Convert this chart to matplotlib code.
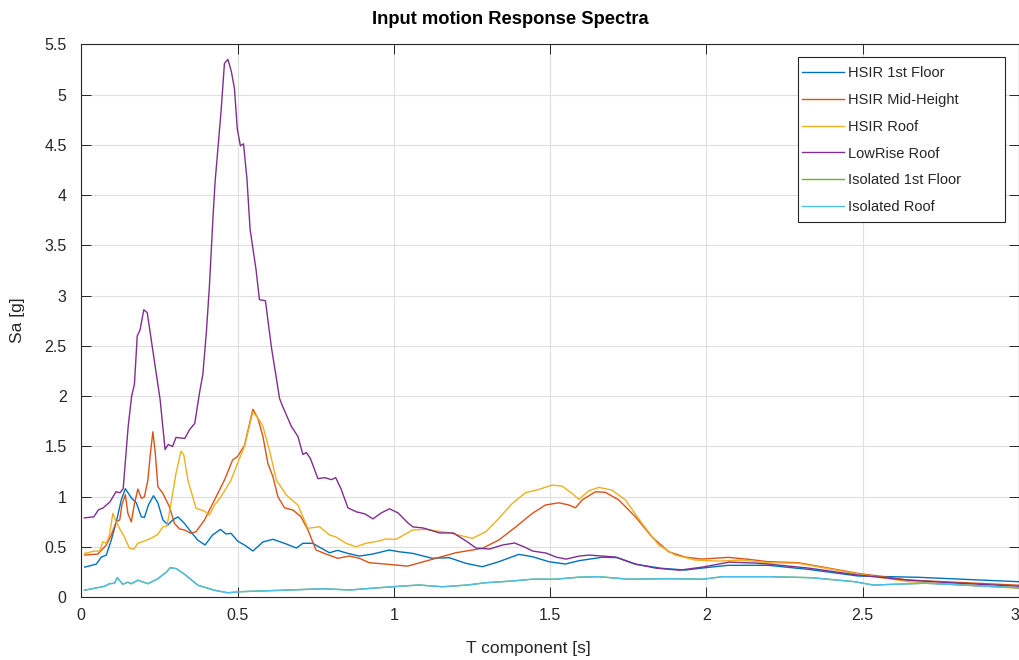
import matplotlib
matplotlib.use("Agg")
import matplotlib.pyplot as plt
from matplotlib.patches import Rectangle

plt.rcParams['font.family'] = ['Liberation Sans', 'DejaVu Sans']

# ---------------- data ----------------
t_blue = [0.011, 0.048, 0.064, 0.08, 0.096, 0.112, 0.128, 0.141, 0.16, 0.176, 0.192, 0.202, 0.215, 0.231,
          0.245, 0.261, 0.277, 0.293, 0.309, 0.33, 0.351, 0.372, 0.396, 0.42, 0.445, 0.463, 0.479, 0.50,
          0.527, 0.549, 0.581, 0.613, 0.656, 0.688, 0.709, 0.74, 0.767, 0.794, 0.82, 0.852, 0.89, 0.932,
          0.985, 1.017, 1.06, 1.123, 1.177, 1.23, 1.283, 1.336, 1.40, 1.443, 1.496, 1.549, 1.592, 1.666,
          1.714, 1.773, 1.858, 1.932, 2.007, 2.07, 2.198, 2.325, 2.485, 2.677, 3.0]
v_blue = [0.30, 0.33, 0.40, 0.42, 0.57, 0.75, 0.97, 1.08, 0.99, 0.94, 0.80, 0.795, 0.92, 1.01,
          0.94, 0.77, 0.72, 0.77, 0.80, 0.735, 0.65, 0.57, 0.52, 0.62, 0.675, 0.63, 0.636, 0.56,
          0.51, 0.46, 0.55, 0.577, 0.53, 0.49, 0.537, 0.537, 0.49, 0.443, 0.467, 0.437, 0.41, 0.43,
          0.47, 0.453, 0.437, 0.388, 0.394, 0.338, 0.304, 0.354, 0.427, 0.404, 0.354, 0.331, 0.364, 0.398,
          0.395, 0.328, 0.288, 0.271, 0.298, 0.318, 0.318, 0.278, 0.212, 0.199, 0.155]

t_red = [0.011, 0.053, 0.08, 0.096, 0.112, 0.123, 0.13, 0.141, 0.149, 0.16, 0.17, 0.181, 0.192, 0.202,
         0.213, 0.221, 0.229, 0.236, 0.245, 0.261, 0.282, 0.298, 0.314, 0.33, 0.351, 0.367, 0.394, 0.426,
         0.458, 0.484, 0.50, 0.522, 0.549, 0.565, 0.581, 0.597, 0.613, 0.629, 0.65, 0.677, 0.703, 0.725,
         0.751, 0.783, 0.82, 0.858, 0.89, 0.921, 0.975, 1.044, 1.123, 1.198, 1.283, 1.336, 1.39, 1.443,
         1.485, 1.528, 1.56, 1.581, 1.602, 1.645, 1.677, 1.72, 1.773, 1.826, 1.879, 1.932, 1.985, 2.07,
         2.134, 2.198, 2.294, 2.485, 2.645, 3.0]
v_red = [0.42, 0.43, 0.52, 0.62, 0.75, 0.77, 0.92, 1.02, 0.835, 0.75, 0.93, 1.077, 0.985, 1.00,
         1.166, 1.43, 1.646, 1.46, 1.10, 1.034, 0.90, 0.735, 0.68, 0.67, 0.636, 0.652, 0.768, 0.967,
         1.166, 1.365, 1.40, 1.51, 1.87, 1.78, 1.60, 1.33, 1.20, 1.00, 0.89, 0.868, 0.80, 0.67,
         0.47, 0.43, 0.388, 0.41, 0.388, 0.344, 0.33, 0.31, 0.378, 0.443, 0.487, 0.57, 0.70, 0.835,
         0.918, 0.94, 0.918, 0.89, 0.967, 1.05, 1.044, 0.967, 0.80, 0.60, 0.453, 0.40, 0.38, 0.397,
         0.378, 0.354, 0.344, 0.238, 0.172, 0.12]

t_yel = [0.011, 0.043, 0.059, 0.069, 0.08, 0.09, 0.101, 0.109, 0.122, 0.138, 0.154, 0.168, 0.181, 0.202,
         0.223, 0.245, 0.261, 0.274, 0.287, 0.303, 0.319, 0.328, 0.341, 0.367, 0.394, 0.41, 0.426, 0.447,
         0.479, 0.506, 0.522, 0.549, 0.57, 0.581, 0.602, 0.624, 0.656, 0.693, 0.709, 0.725, 0.762, 0.794,
         0.815, 0.847, 0.879, 0.911, 0.953, 0.975, 1.007, 1.06, 1.102, 1.177, 1.251, 1.294, 1.336, 1.379,
         1.421, 1.464, 1.506, 1.538, 1.57, 1.592, 1.624, 1.656, 1.698, 1.741, 1.794, 1.847, 1.90, 1.964,
         2.039, 2.113, 2.198, 2.294, 2.485, 2.645, 3.0]
v_yel = [0.437, 0.46, 0.46, 0.553, 0.537, 0.62, 0.835, 0.768, 0.686, 0.60, 0.487, 0.477, 0.537, 0.56,
         0.586, 0.626, 0.70, 0.709, 0.934, 1.233, 1.454, 1.415, 1.166, 0.885, 0.858, 0.818, 0.917, 1.00,
         1.166, 1.38, 1.50, 1.845, 1.76, 1.70, 1.464, 1.166, 1.017, 0.917, 0.80, 0.686, 0.702, 0.62,
         0.60, 0.537, 0.503, 0.537, 0.56, 0.58, 0.577, 0.669, 0.676, 0.642, 0.586, 0.652, 0.785, 0.934,
         1.04, 1.073, 1.116, 1.106, 1.034, 0.974, 1.06, 1.093, 1.066, 0.967, 0.735, 0.52, 0.42, 0.37,
         0.36, 0.37, 0.344, 0.338, 0.232, 0.155, 0.09]

t_pur = [0.01, 0.04, 0.055, 0.07, 0.092, 0.111, 0.124, 0.134, 0.15, 0.161, 0.17, 0.179, 0.188, 0.20,
         0.211, 0.23, 0.252, 0.268, 0.278, 0.292, 0.303, 0.331, 0.347, 0.363, 0.378, 0.389, 0.40, 0.41,
         0.421, 0.428, 0.437, 0.447, 0.458, 0.469, 0.48, 0.49, 0.499, 0.509, 0.519, 0.53, 0.54, 0.559,
         0.57, 0.589, 0.609, 0.623, 0.634, 0.644, 0.672, 0.693, 0.709, 0.72, 0.733, 0.757, 0.779, 0.80,
         0.814, 0.832, 0.853, 0.88, 0.907, 0.933, 0.96, 0.986, 1.013, 1.045, 1.061, 1.093, 1.146, 1.19,
         1.231, 1.263, 1.306, 1.348, 1.386, 1.418, 1.444, 1.487, 1.519, 1.551, 1.593, 1.625, 1.668, 1.71,
         1.774, 1.838, 1.913, 1.987, 2.073, 2.158, 2.20, 2.328, 2.488, 2.648, 2.808, 3.0]
v_pur = [0.79, 0.80, 0.87, 0.89, 0.95, 1.05, 1.04, 1.08, 1.70, 2.00, 2.12, 2.60, 2.66, 2.86,
         2.83, 2.43, 1.97, 1.47, 1.52, 1.50, 1.59, 1.58, 1.67, 1.73, 2.03, 2.22, 2.63, 3.10,
         3.76, 4.13, 4.46, 4.83, 5.31, 5.35, 5.23, 5.06, 4.66, 4.49, 4.51, 4.16, 3.66, 3.26,
         2.96, 2.95, 2.47, 2.20, 1.98, 1.90, 1.70, 1.60, 1.42, 1.44, 1.38, 1.18, 1.19, 1.17,
         1.19, 1.07, 0.89, 0.85, 0.83, 0.78, 0.84, 0.88, 0.84, 0.74, 0.70, 0.69, 0.64, 0.64,
         0.56, 0.49, 0.48, 0.52, 0.54, 0.50, 0.46, 0.44, 0.40, 0.38, 0.41, 0.42, 0.41, 0.40,
         0.33, 0.29, 0.27, 0.30, 0.35, 0.34, 0.33, 0.29, 0.22, 0.17, 0.14, 0.11]

t_iso = [0.01, 0.075, 0.09, 0.106, 0.115, 0.133, 0.149, 0.16, 0.181, 0.213, 0.245, 0.272, 0.285, 0.304,
         0.33, 0.373, 0.426, 0.469, 0.51, 0.67, 0.77, 0.86, 0.95, 1.044, 1.08, 1.156, 1.235, 1.294,
         1.379, 1.443, 1.517, 1.592, 1.655, 1.751, 1.879, 1.99, 2.05, 2.2, 2.335, 2.475, 2.533, 2.7, 3.0]
v_iso_floor = [0.07, 0.11, 0.135, 0.14, 0.195, 0.13, 0.15, 0.135, 0.17, 0.135, 0.185, 0.25, 0.295, 0.285,
               0.23, 0.12, 0.07, 0.045, 0.056, 0.073, 0.085, 0.073, 0.095, 0.115, 0.122, 0.105, 0.122, 0.145,
               0.162, 0.18, 0.18, 0.20, 0.205, 0.18, 0.185, 0.18, 0.205, 0.205, 0.195, 0.155, 0.122, 0.14, 0.095]
v_iso_roof = v_iso_floor

labels = ['HSIR 1st Floor', 'HSIR Mid-Height', 'HSIR Roof', 'LowRise Roof',
          'Isolated 1st Floor', 'Isolated Roof']
colors = ['#0072BD', '#D95319', '#EDB120', '#7E2F8E', '#77AC30', '#4DBEEE']
x_ticks = [0, 0.5, 1, 1.5, 2, 2.5, 3]
x_ticklabels = ['0', '0.5', '1', '1.5', '2', '2.5', '3']
y_ticks = [0, 0.5, 1, 1.5, 2, 2.5, 3, 3.5, 4, 4.5, 5, 5.5]
y_ticklabels = ['0', '0.5', '1', '1.5', '2', '2.5', '3', '3.5', '4', '4.5', '5', '5.5']

# ---------------- figure ----------------
W, H = 1020, 660
fig = plt.figure(figsize=(W / 100, H / 100), dpi=100)
ax = fig.add_axes([81.3 / W, 1 - 597.3 / H, (1019 - 81.3) / W, (597.3 - 44.3) / H])

series = [(t_blue, v_blue), (t_red, v_red), (t_yel, v_yel), (t_pur, v_pur),
          (t_iso, v_iso_floor), (t_iso, v_iso_roof)]
for (tt, vv), lab, col in zip(series, labels, colors):
    ax.plot(tt, vv, color=col, lw=1.0, label=lab)

ax.set_xlim(0, 3)
ax.set_ylim(0, 5.5)
ax.set_xticks(x_ticks)
ax.set_xticklabels(x_ticklabels)
ax.set_yticks(y_ticks)
ax.set_yticklabels(y_ticklabels)
ax.get_xticklabels()[-1].set_horizontalalignment('right')

ax.grid(True, color='#dfdfdf', lw=0.8)
ax.set_axisbelow(True)
for s in ax.spines.values():
    s.set_color('#262626')
    s.set_linewidth(0.8)
ax.tick_params(direction='in', length=7, width=0.7, color='#262626',
               top=True, right=True, labelsize=11.5, labelcolor='#262626')
ax.tick_params(axis='y', pad=10.5)
ax.tick_params(axis='x', pad=8)

fig.text(510 / W, 1 - 20 / H, 'Input motion Response Spectra', fontsize=13.2, fontweight='bold',
         ha='center', va='center', color='#000000')
fig.text(528 / W, 1 - 648 / H, 'T component [s]', fontsize=12.5, ha='center', va='center', color='#262626')
fig.text(18 / W, 1 - 320 / H, 'Sa [g]', fontsize=12.5, ha='center', va='center', rotation=90, color='#262626')

# legend box (MATLAB style: extra space on the right)
ax.add_patch(Rectangle((798 / W, 1 - 222 / H), 207 / W, 165 / H, transform=fig.transFigure,
                       facecolor='white', edgecolor='#262626', lw=0.8, zorder=4.5, clip_on=False))
leg = ax.legend(loc='upper left', bbox_to_anchor=(802 / W, 1 - 66 / H), bbox_transform=fig.transFigure,
                borderaxespad=0, borderpad=0, fontsize=10.5, handlelength=2.85, handletextpad=0.3,
                labelspacing=0.88, frameon=False)
leg.set_zorder(5)
for txt in leg.get_texts():
    txt.set_color('#262626')

fig.savefig('out.png', dpi=100)
